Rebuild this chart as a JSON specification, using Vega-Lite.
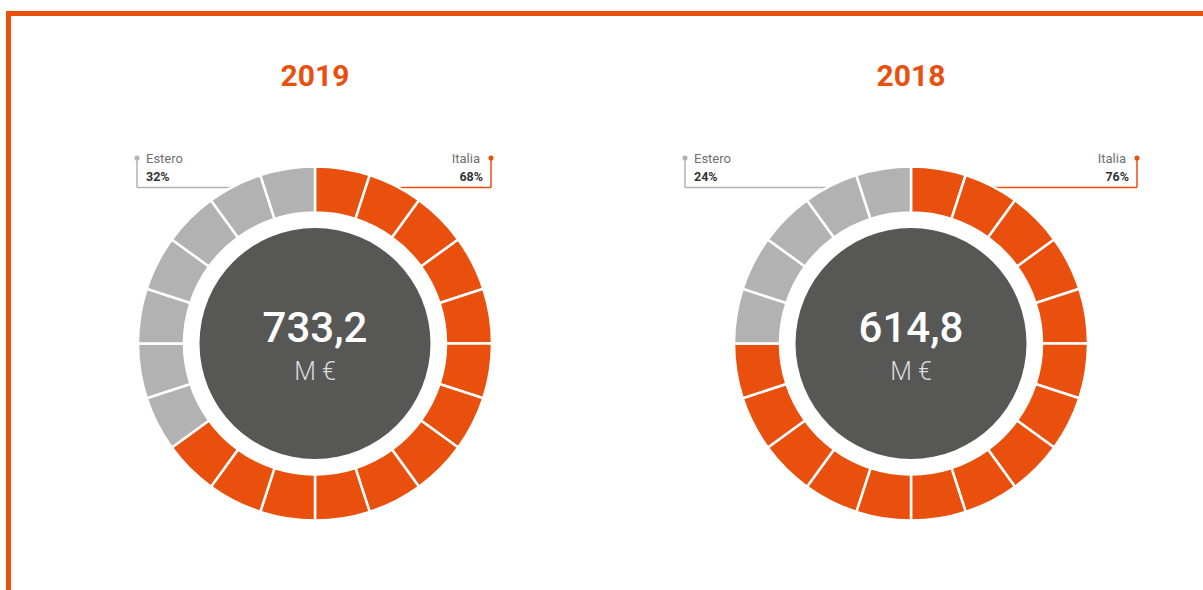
{
  "$schema": "https://vega.github.io/schema/vega-lite/v6.json",
  "width": 1203,
  "height": 590,
  "autosize": {"type": "none"},
  "padding": 0,
  "background": "white",
  "config": {"view": {"stroke": null}},
  "datasets": {
    "segments": [
      {"year": "2019", "seg": 0, "seg_end": 1, "cat": "Italia"},
      {"year": "2019", "seg": 1, "seg_end": 2, "cat": "Italia"},
      {"year": "2019", "seg": 2, "seg_end": 3, "cat": "Italia"},
      {"year": "2019", "seg": 3, "seg_end": 4, "cat": "Italia"},
      {"year": "2019", "seg": 4, "seg_end": 5, "cat": "Italia"},
      {"year": "2019", "seg": 5, "seg_end": 6, "cat": "Italia"},
      {"year": "2019", "seg": 6, "seg_end": 7, "cat": "Italia"},
      {"year": "2019", "seg": 7, "seg_end": 8, "cat": "Italia"},
      {"year": "2019", "seg": 8, "seg_end": 9, "cat": "Italia"},
      {"year": "2019", "seg": 9, "seg_end": 10, "cat": "Italia"},
      {"year": "2019", "seg": 10, "seg_end": 11, "cat": "Italia"},
      {"year": "2019", "seg": 11, "seg_end": 12, "cat": "Italia"},
      {"year": "2019", "seg": 12, "seg_end": 13, "cat": "Italia"},
      {"year": "2019", "seg": 13, "seg_end": 14, "cat": "Estero"},
      {"year": "2019", "seg": 14, "seg_end": 15, "cat": "Estero"},
      {"year": "2019", "seg": 15, "seg_end": 16, "cat": "Estero"},
      {"year": "2019", "seg": 16, "seg_end": 17, "cat": "Estero"},
      {"year": "2019", "seg": 17, "seg_end": 18, "cat": "Estero"},
      {"year": "2019", "seg": 18, "seg_end": 19, "cat": "Estero"},
      {"year": "2019", "seg": 19, "seg_end": 20, "cat": "Estero"},
      {"year": "2018", "seg": 0, "seg_end": 1, "cat": "Italia"},
      {"year": "2018", "seg": 1, "seg_end": 2, "cat": "Italia"},
      {"year": "2018", "seg": 2, "seg_end": 3, "cat": "Italia"},
      {"year": "2018", "seg": 3, "seg_end": 4, "cat": "Italia"},
      {"year": "2018", "seg": 4, "seg_end": 5, "cat": "Italia"},
      {"year": "2018", "seg": 5, "seg_end": 6, "cat": "Italia"},
      {"year": "2018", "seg": 6, "seg_end": 7, "cat": "Italia"},
      {"year": "2018", "seg": 7, "seg_end": 8, "cat": "Italia"},
      {"year": "2018", "seg": 8, "seg_end": 9, "cat": "Italia"},
      {"year": "2018", "seg": 9, "seg_end": 10, "cat": "Italia"},
      {"year": "2018", "seg": 10, "seg_end": 11, "cat": "Italia"},
      {"year": "2018", "seg": 11, "seg_end": 12, "cat": "Italia"},
      {"year": "2018", "seg": 12, "seg_end": 13, "cat": "Italia"},
      {"year": "2018", "seg": 13, "seg_end": 14, "cat": "Italia"},
      {"year": "2018", "seg": 14, "seg_end": 15, "cat": "Italia"},
      {"year": "2018", "seg": 15, "seg_end": 16, "cat": "Estero"},
      {"year": "2018", "seg": 16, "seg_end": 17, "cat": "Estero"},
      {"year": "2018", "seg": 17, "seg_end": 18, "cat": "Estero"},
      {"year": "2018", "seg": 18, "seg_end": 19, "cat": "Estero"},
      {"year": "2018", "seg": 19, "seg_end": 20, "cat": "Estero"}
    ],
    "totals": [
      {"year": "2019", "total": "733,2", "unit": "M €"},
      {"year": "2018", "total": "614,8", "unit": "M €"}
    ],
    "callouts": [
      {"year": "2019", "cat": "Estero", "label": "Estero", "pct": "32%", "lx": 137, "ex": 232},
      {"year": "2019", "cat": "Italia", "label": "Italia", "pct": "68%", "lx": 491, "ex": 398},
      {"year": "2018", "cat": "Estero", "label": "Estero", "pct": "24%", "lx": 685, "ex": 829},
      {"year": "2018", "cat": "Italia", "label": "Italia", "pct": "76%", "lx": 1137, "ex": 994}
    ]
  },
  "resolve": {"scale": {"x": "independent", "y": "independent"}},
  "layer": [
    {
      "data": {"values": [{}]},
      "mark": {"type": "rect", "fill": "transparent", "stroke": "#E9500E", "strokeWidth": 5},
      "encoding": {
        "x": {"datum": 8.5, "type": "quantitative", "scale": {"domain": [0, 1203], "nice": false, "zero": false}, "axis": null},
        "x2": {"datum": 1220},
        "y": {"datum": 13.5, "type": "quantitative", "scale": {"domain": [0, 590], "nice": false, "zero": false, "reverse": true}, "axis": null},
        "y2": {"datum": 610}
      }
    },
    {
      "data": {"name": "callouts"},
      "mark": {"type": "rule", "strokeWidth": 1.5},
      "encoding": {
        "x": {"field": "lx", "type": "quantitative", "scale": {"domain": [0, 1203], "nice": false, "zero": false}, "axis": null},
        "y": {"datum": 158, "type": "quantitative", "scale": {"domain": [0, 590], "nice": false, "zero": false, "reverse": true}, "axis": null},
        "y2": {"datum": 187.5},
        "color": {"field": "cat", "type": "nominal", "scale": {"domain": ["Italia", "Estero"], "range": ["#E9500E", "#B2B2B2"]}, "legend": null}
      }
    },
    {
      "data": {"name": "callouts"},
      "mark": {"type": "rule", "strokeWidth": 1.5},
      "encoding": {
        "x": {"field": "lx", "type": "quantitative", "scale": {"domain": [0, 1203], "nice": false, "zero": false}, "axis": null},
        "x2": {"field": "ex"},
        "y": {"datum": 187.5, "type": "quantitative", "scale": {"domain": [0, 590], "nice": false, "zero": false, "reverse": true}, "axis": null},
        "color": {"field": "cat", "type": "nominal", "scale": {"domain": ["Italia", "Estero"], "range": ["#E9500E", "#B2B2B2"]}, "legend": null}
      }
    },
    {
      "data": {"name": "callouts"},
      "mark": {"type": "circle", "size": 26, "opacity": 1},
      "encoding": {
        "x": {"field": "lx", "type": "quantitative", "scale": {"domain": [0, 1203], "nice": false, "zero": false}, "axis": null},
        "y": {"datum": 158, "type": "quantitative", "scale": {"domain": [0, 590], "nice": false, "zero": false, "reverse": true}, "axis": null},
        "color": {"field": "cat", "type": "nominal", "scale": {"domain": ["Italia", "Estero"], "range": ["#E9500E", "#B2B2B2"]}, "legend": null}
      }
    },
    {
      "data": {"name": "segments"},
      "mark": {"type": "arc", "radius": 177, "radius2": 131, "stroke": "white", "strokeWidth": 2.5},
      "encoding": {
        "x": {"field": "year", "type": "nominal", "scale": {"type": "point", "domain": ["2019", "2018"], "range": [315, 911], "padding": 0}, "axis": null},
        "y": {"datum": 343.5, "type": "quantitative", "scale": {"domain": [0, 590], "nice": false, "zero": false, "reverse": true}, "axis": null},
        "theta": {"field": "seg", "type": "quantitative", "stack": null, "scale": {"domain": [0, 20], "nice": false}},
        "theta2": {"field": "seg_end"},
        "color": {"field": "cat", "type": "nominal", "scale": {"domain": ["Italia", "Estero"], "range": ["#E9500E", "#B2B2B2"]}, "legend": null}
      }
    },
    {
      "data": {"name": "totals"},
      "mark": {"type": "circle", "size": 53361, "opacity": 1, "color": "#575756"},
      "encoding": {
        "x": {"field": "year", "type": "nominal", "scale": {"type": "point", "domain": ["2019", "2018"], "range": [315, 911], "padding": 0}, "axis": null},
        "y": {"datum": 343.5, "type": "quantitative", "scale": {"domain": [0, 590], "nice": false, "zero": false, "reverse": true}, "axis": null}
      }
    },
    {
      "data": {"name": "totals"},
      "mark": {"type": "text", "font": "Roboto", "fontSize": 42, "fontWeight": 500, "color": "white", "align": "center", "baseline": "alphabetic"},
      "encoding": {
        "x": {"field": "year", "type": "nominal", "scale": {"type": "point", "domain": ["2019", "2018"], "range": [315, 911], "padding": 0}, "axis": null},
        "y": {"datum": 342, "type": "quantitative", "scale": {"domain": [0, 590], "nice": false, "zero": false, "reverse": true}, "axis": null},
        "text": {"field": "total"}
      }
    },
    {
      "data": {"name": "totals"},
      "mark": {"type": "text", "font": "Roboto", "fontSize": 25, "fontWeight": 300, "color": "#DADADA", "align": "center", "baseline": "alphabetic"},
      "encoding": {
        "x": {"field": "year", "type": "nominal", "scale": {"type": "point", "domain": ["2019", "2018"], "range": [315, 911], "padding": 0}, "axis": null},
        "y": {"datum": 380, "type": "quantitative", "scale": {"domain": [0, 590], "nice": false, "zero": false, "reverse": true}, "axis": null},
        "text": {"field": "unit"}
      }
    },
    {
      "data": {"name": "totals"},
      "mark": {"type": "text", "font": "Roboto", "fontSize": 30, "fontWeight": "bold", "color": "#E9500E", "align": "center", "baseline": "alphabetic"},
      "encoding": {
        "x": {"field": "year", "type": "nominal", "scale": {"type": "point", "domain": ["2019", "2018"], "range": [315, 911], "padding": 0}, "axis": null},
        "y": {"datum": 85.5, "type": "quantitative", "scale": {"domain": [0, 590], "nice": false, "zero": false, "reverse": true}, "axis": null},
        "text": {"field": "year"}
      }
    },
    {
      "data": {"name": "callouts"},
      "transform": [{"filter": "datum.cat === 'Estero'"}],
      "mark": {"type": "text", "font": "Roboto", "fontSize": 13, "fontWeight": 400, "color": "#707070", "align": "left", "baseline": "alphabetic", "dx": 9},
      "encoding": {
        "x": {"field": "lx", "type": "quantitative", "scale": {"domain": [0, 1203], "nice": false, "zero": false}, "axis": null},
        "y": {"datum": 162.5, "type": "quantitative", "scale": {"domain": [0, 590], "nice": false, "zero": false, "reverse": true}, "axis": null},
        "text": {"field": "label"}
      }
    },
    {
      "data": {"name": "callouts"},
      "transform": [{"filter": "datum.cat === 'Estero'"}],
      "mark": {"type": "text", "font": "Roboto", "fontSize": 12.5, "fontWeight": "bold", "color": "#333333", "align": "left", "baseline": "alphabetic", "dx": 9},
      "encoding": {
        "x": {"field": "lx", "type": "quantitative", "scale": {"domain": [0, 1203], "nice": false, "zero": false}, "axis": null},
        "y": {"datum": 181, "type": "quantitative", "scale": {"domain": [0, 590], "nice": false, "zero": false, "reverse": true}, "axis": null},
        "text": {"field": "pct"}
      }
    },
    {
      "data": {"name": "callouts"},
      "transform": [{"filter": "datum.cat === 'Italia'"}],
      "mark": {"type": "text", "font": "Roboto", "fontSize": 13, "fontWeight": 400, "color": "#707070", "align": "right", "baseline": "alphabetic", "dx": -11},
      "encoding": {
        "x": {"field": "lx", "type": "quantitative", "scale": {"domain": [0, 1203], "nice": false, "zero": false}, "axis": null},
        "y": {"datum": 162.5, "type": "quantitative", "scale": {"domain": [0, 590], "nice": false, "zero": false, "reverse": true}, "axis": null},
        "text": {"field": "label"}
      }
    },
    {
      "data": {"name": "callouts"},
      "transform": [{"filter": "datum.cat === 'Italia'"}],
      "mark": {"type": "text", "font": "Roboto", "fontSize": 12.5, "fontWeight": "bold", "color": "#333333", "align": "right", "baseline": "alphabetic", "dx": -8},
      "encoding": {
        "x": {"field": "lx", "type": "quantitative", "scale": {"domain": [0, 1203], "nice": false, "zero": false}, "axis": null},
        "y": {"datum": 181, "type": "quantitative", "scale": {"domain": [0, 590], "nice": false, "zero": false, "reverse": true}, "axis": null},
        "text": {"field": "pct"}
      }
    }
  ]
}
